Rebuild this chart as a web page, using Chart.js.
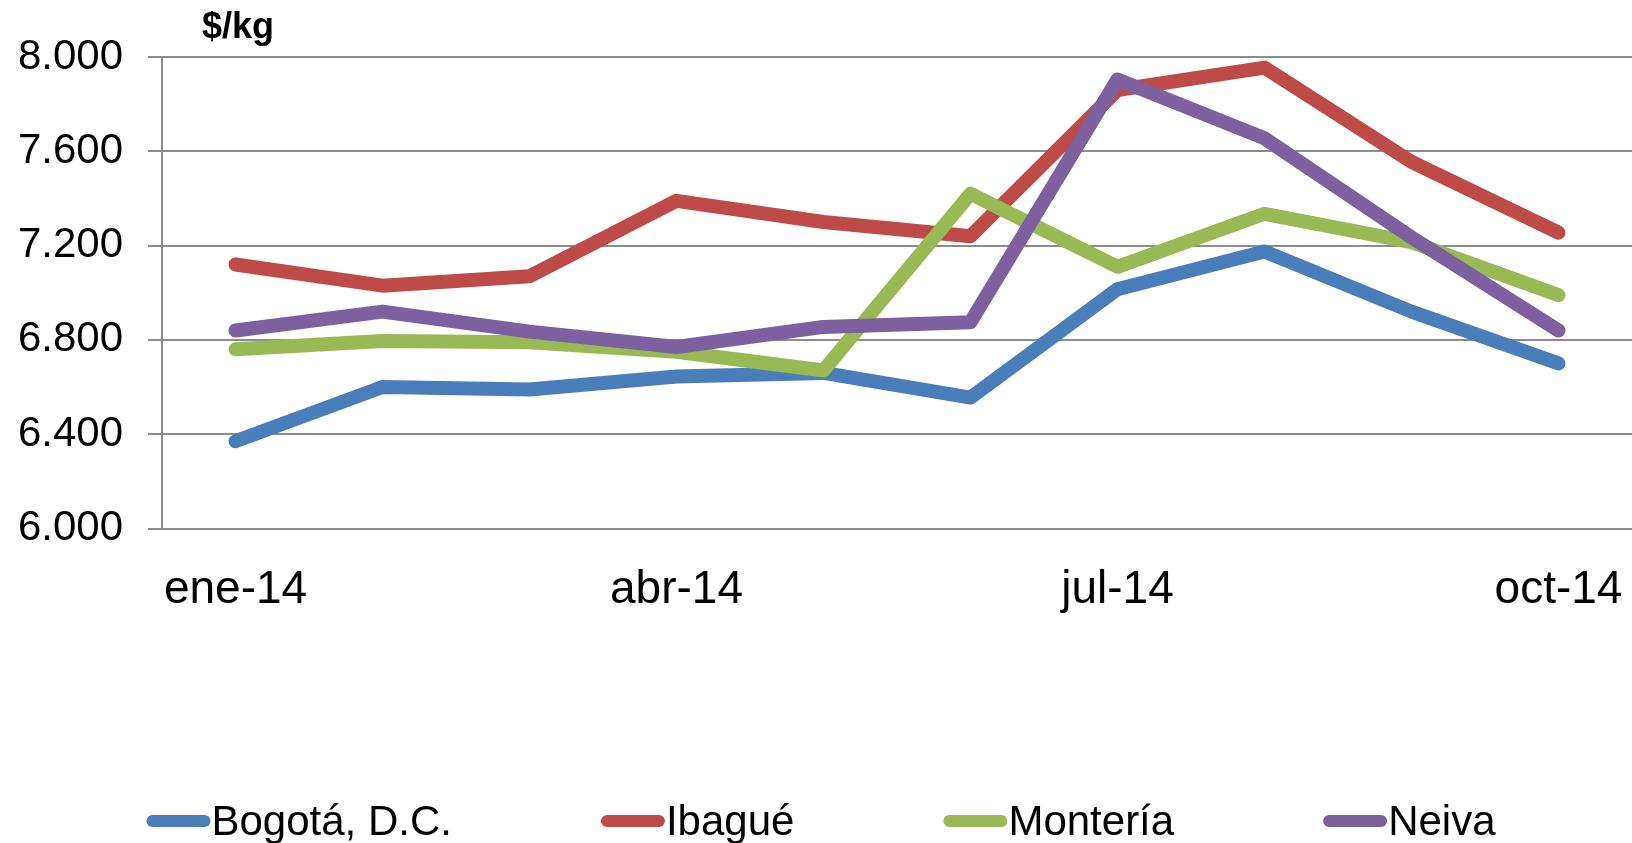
<!DOCTYPE html>
<html>
<head>
<meta charset="utf-8">
<script src="https://cdn.jsdelivr.net/npm/chart.js@4.4.1/dist/chart.umd.min.js"></script>
<style>
  html, body { margin: 0; padding: 0; background: #ffffff; }
  #wrap { width: 1632px; height: 843px; position: relative; }
</style>
</head>
<body>
<div id="wrap"><canvas id="c" width="1632" height="843"></canvas></div>
<script>
const months = ['ene-14','feb-14','mar-14','abr-14','may-14','jun-14','jul-14','ago-14','sep-14','oct-14'];
const shownMonthIdx = [0, 3, 6, 9];
const unitLabel = '$/kg';
const seriesNames = ['Bogotá, D.C.', 'Ibagué', 'Montería', 'Neiva'];
const bogota   = [6370, 6600, 6590, 6645, 6660, 6555, 7015, 7175, 6920, 6700];
const ibague   = [7120, 7030, 7070, 7390, 7300, 7240, 7860, 7955, 7555, 7255];
const monteria = [6760, 6795, 6790, 6750, 6670, 7420, 7110, 7335, 7215, 6990];
const neiva    = [6840, 6920, 6835, 6770, 6855, 6875, 7905, 7655, 7235, 6840];
const yMin = 6000, yMax = 8000, yStep = 400;

const colors = ['#4A7EBB', '#BE4B48', '#98B954', '#7D60A0'];
const FONT = "'Liberation Sans', Arial, sans-serif";

function fmt(v) {
  return String(Math.round(v)).replace(/\B(?=(\d{3})+(?!\d))/g, '.');
}

const allSeries = [bogota, ibague, monteria, neiva];
const datasets = allSeries.map((d, i) => ({
  label: seriesNames[i],
  data: d,
  borderColor: colors[i],
  backgroundColor: colors[i],
  borderWidth: 14,
  pointRadius: 0,
  pointHoverRadius: 0,
  tension: 0,
  fill: false,
  borderCapStyle: 'round',
  borderJoinStyle: 'round',
  order: allSeries.length - 1 - i
}));

const extras = {
  id: 'extras',
  afterDraw(chart) {
    const ctx = chart.ctx;
    ctx.save();
    // unit label
    ctx.fillStyle = '#000';
    ctx.font = "bold 36px " + FONT;
    ctx.textAlign = 'left';
    ctx.textBaseline = 'alphabetic';
    ctx.fillText(unitLabel, 202, 38);

    // legend
    ctx.font = "42px " + FONT;
    const markW = 64, gapMark = 1, gapItem = 149;
    const items = chart.data.datasets.map(ds => ({
      text: ds.label, color: ds.borderColor, w: ctx.measureText(ds.label).width
    }));
    let total = 0;
    items.forEach((it, i) => { total += markW + gapMark + it.w + (i < items.length - 1 ? gapItem : 0); });
    let x = 821 - total / 2;
    const yMid = 821, yBase = 835;
    items.forEach(it => {
      ctx.strokeStyle = it.color;
      ctx.lineWidth = 12;
      ctx.lineCap = 'round';
      ctx.beginPath();
      ctx.moveTo(x + 6, yMid);
      ctx.lineTo(x + markW - 6, yMid);
      ctx.stroke();
      ctx.fillStyle = '#000';
      ctx.fillText(it.text, x + markW + gapMark, yBase);
      x += markW + gapMark + it.w + gapItem;
    });
    ctx.restore();
  }
};

new Chart(document.getElementById('c'), {
  type: 'line',
  data: { labels: months, datasets },
  options: {
    responsive: false,
    animation: false,
    events: [],
    layout: { padding: { top: 57, right: 0, bottom: 215, left: 0 } },
    plugins: { legend: { display: false }, tooltip: { enabled: false }, title: { display: false } },
    scales: {
      x: {
        offset: true,
        grid: { display: false, drawTicks: false },
        border: { display: false },
        ticks: {
          autoSkip: false, maxRotation: 0, minRotation: 0,
          padding: 34,
          color: '#000',
          font: { family: FONT, size: 46 },
          callback: function(val, idx) { return shownMonthIdx.includes(idx) ? months[idx] : ''; }
        },
        afterFit(scale) {
          scale.height = 843 - 215 - 528.5;
          scale.paddingLeft = 0;
          scale.paddingRight = 0;
        }
      },
      y: {
        min: yMin, max: yMax,
        grid: { color: '#8c8c8c', lineWidth: 2, tickLength: 14, drawTicks: true, tickColor: '#8c8c8c', tickWidth: 2 },
        border: { display: true, color: '#8c8c8c', width: 2 },
        ticks: {
          stepSize: yStep,
          padding: 25,
          color: '#000',
          font: { family: FONT, size: 42 },
          callback: v => fmt(v)
        },
        afterFit(scale) { scale.width = 162; }
      }
    }
  },
  plugins: [extras]
});
</script>
</body>
</html>
